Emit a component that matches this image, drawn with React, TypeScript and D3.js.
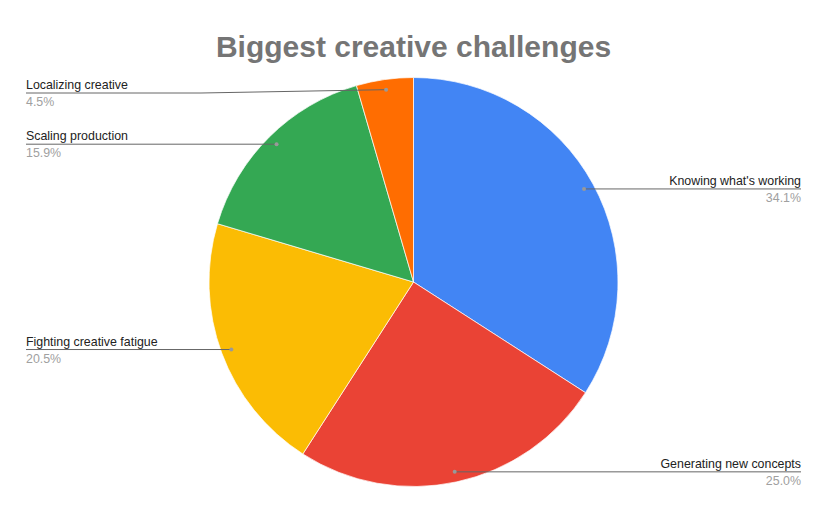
import React from "react";
import * as d3 from "d3";

const categories = [
  "Knowing what's working",
  "Generating new concepts",
  "Fighting creative fatigue",
  "Scaling production",
  "Localizing creative",
];
const values = [34.1, 25.0, 20.5, 15.9, 4.5];
const colors = ["#4285f4", "#ea4335", "#fbbc04", "#34a853", "#ff6d01"];
const title = "Biggest creative challenges";

const W = 827;
const H = 512;
const cx = 413.5;
const cy = 282;
const R = 204.5;
const FONT = "'Liberation Sans', Arial, sans-serif";

export default function App() {
  const data = categories.map((c, i) => ({ c, v: values[i], color: colors[i] }));
  const pie = d3.pie<any>().value((d) => d.v).sort(null);
  const arcs = pie(data);
  const arc = d3.arc<any>().innerRadius(0).outerRadius(R);

  const labels = arcs.map((a) => {
    const mid = (a.startAngle + a.endAngle) / 2;
    const rd = R * 0.95;
    const dx = cx + rd * Math.sin(mid);
    const dy = cy - rd * Math.cos(mid);
    const right = Math.sin(mid) > 0;
    const lineY = Math.max(dy, 93);
    const outerX = right ? 801 : 26;
    const elbowX = right ? outerX - 180 : outerX + 175;
    return { a, dx, dy, right, lineY, outerX, elbowX };
  });

  return (
    <svg
      width={W}
      height={H}
      style={{ position: "absolute", left: 0, top: 0, background: "#fff" }}
      fontFamily={FONT}
    >
      <rect width={W} height={H} fill="#fff" />
      <text
        x={cx}
        y={57}
        textAnchor="middle"
        fontSize={30}
        fontWeight="bold"
        fill="#757575"
      >
        {title}
      </text>
      <g transform={`translate(${cx},${cy})`}>
        {arcs.map((a, i) => (
          <path key={i} d={arc(a) as string} fill={a.data.color} stroke="#fff" strokeWidth={0.7} />
        ))}
      </g>
      {labels.map((l, i) => {
        const pts: [number, number][] = [
          [l.outerX, l.lineY],
          [l.elbowX, l.lineY],
          [l.dx, l.dy],
        ];
        const line = d3.line()(pts) as string;
        return (
          <g key={i}>
            <path d={line} fill="none" stroke="#666" strokeWidth={1} />
            <circle cx={l.dx} cy={l.dy} r={2} fill="#999" />
            <text
              x={l.outerX}
              y={l.lineY - 4}
              fontSize={12.4}
              fill="#222"
              textAnchor={l.right ? "end" : "start"}
            >
              {l.a.data.c}
            </text>
            <text
              x={l.outerX}
              y={l.lineY + 13}
              fontSize={12.4}
              fill="#a0a0a0"
              textAnchor={l.right ? "end" : "start"}
            >
              {l.a.data.v.toFixed(1) + "%"}
            </text>
          </g>
        );
      })}
    </svg>
  );
}
